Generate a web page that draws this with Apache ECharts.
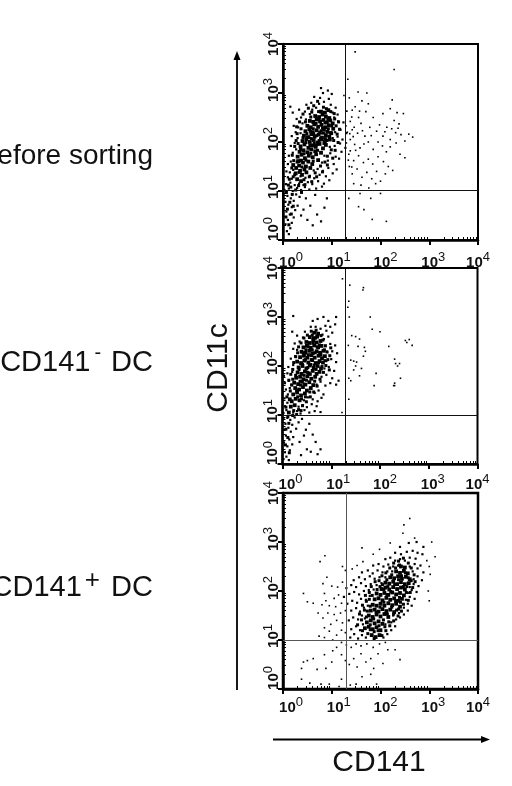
<!DOCTYPE html>
<html><head><meta charset="utf-8"><style>html,body{margin:0;padding:0;background:#fff}#c{width:512px;height:786px}</style>
<script src="https://cdn.jsdelivr.net/npm/echarts@6/dist/echarts.min.js"></script></head><body><div id="c"></div>
<script>
// all values are log10 fluorescence intensity: [CD141, CD11c]
const decades=[0,1,2,3,4];
const minorDecadeSteps=[2,3,4,5,6,7,8,9];
const gates=[[1.27,1.01],[1.28,1.0],[1.29,1.0]];
const beforeCore=[[.33,1.52],[.41,1.58],[.47,1.5],[.52,1.6],[.37,1.62],[.3,1.7],[.38,1.74],[.45,1.67],[.53,1.72],[.61,1.69],[.68,1.75],[.34,1.8],[.42,1.83],[.5,1.79],[.58,1.85],[.66,1.81],[.36,1.91],[.44,1.95],[.52,1.88],[.6,1.93],[.67,1.9],[.75,1.96],[.82,1.87],[.4,2.02],[.48,2.06],[.55,2.0],[.63,2.04],[.71,1.99],[.79,2.05],[.86,2.01],[.43,2.13],[.51,2.1],[.58,2.16],[.65,2.11],[.73,2.15],[.8,2.09],[.88,2.14],[.95,2.11],[.46,2.22],[.54,2.26],[.61,2.2],[.69,2.24],[.76,2.19],[.84,2.25],[.91,2.21],[.99,2.18],[.5,2.33],[.57,2.3],[.64,2.36],[.72,2.31],[.79,2.35],[.87,2.3],[.94,2.34],[.55,2.43],[.62,2.41],[.69,2.46],[.76,2.42],[.83,2.45],[.9,2.4],[.97,2.44],[.66,2.53],[.74,2.51],[.81,2.56],[.88,2.52],[.95,2.49],[.78,2.62],[.86,2.6],[.93,2.65],[.27,1.47],[.35,1.41],[.44,1.44],[.56,1.47],[.6,1.55],[.72,1.63],[.78,1.78],[.88,1.94],[.96,2.05],[1.03,2.27],[1.02,2.38],[.31,1.61],[.26,1.36],[.39,1.33],[.48,1.38],[.29,1.24],[.37,1.2],[.21,1.53]];
const beforeDense=[[.19,1.73],[.27,2.03],[.24,1.91],[.31,1.97],[.29,2.17],[.37,2.27],[.34,2.41],[.41,2.57],[.52,2.69],[.57,2.51],[.63,2.74],[.71,2.83],[.83,2.71],[.98,2.62],[1.06,2.47],[1.09,2.33],[1.11,2.16],[1.04,2.03],[1.13,1.99],[.99,1.84],[.91,1.71],[.86,1.59],[.77,1.51],[.66,1.37],[.54,1.29],[.43,1.23],[.32,1.11],[.24,1.33],[.18,1.47],[.13,1.24],[.16,1.08],[.47,1.99],[.53,2.09],[.62,2.27],[.68,2.38],[.74,2.47],[.81,2.29],[.86,2.39],[.92,2.46],[.77,2.07],[.83,2.18],[.69,1.94],[.57,1.77],[.47,1.63],[.39,1.49],[.62,1.61],[.71,1.83],[.74,2.03],[.63,2.17],[.56,2.22],[.49,2.17],[.41,2.09],[.36,1.85],[.43,1.76],[.55,1.93],[.64,1.97],[.58,2.07],[.69,2.13],[.78,2.23],[.87,2.07],[.93,2.27],[1.0,2.33],[.97,2.19],[.9,2.03],[.84,1.97],[.22,1.62],[.29,1.59],[.21,1.29],[.33,1.38],[.11,1.12],[.07,.97],[.19,.93],[.14,.77],[.09,.63],[.21,.69],[.06,.47],[.17,.53],[.12,.31],[.26,1.02],[.38,.97],[.45,1.13],[.59,1.19],[.69,1.29],[.81,1.39],[.91,1.53],[1.02,1.67],[1.07,1.83],[1.16,2.26],[1.14,2.41],[.28,2.31],[.46,2.41],[.59,2.61],[.73,2.62],[.89,2.68],[1.05,2.58]];
const beforeHalo=[[.08,.18],[.12,.12],[.15,.24],[.05,.32],[.18,.35],[.1,.41],[.22,.46],[.14,.52],[.07,.58],[.25,.61],[.18,.67],[.11,.72],[.3,.7],[.05,.78],[.22,.8],[.16,.85],[.34,.88],[.09,.9],[.27,.93],[.42,.62],[.5,.41],[.37,.5],[.56,.7],[.61,.3],[.47,.85],[.7,.52],[.78,.38],[.85,.66],[.9,.85],[.66,.92],[.03,1.02],[.12,1.05],[.2,1.0],[.29,1.06],[.37,1.02],[.45,1.08],[.54,1.03],[.68,1.05],[.8,1.09],[.06,1.14],[.15,1.17],[.24,1.12],[.33,1.15],[.42,1.12],[.51,1.18],[.6,1.14],[.72,1.2],[.84,1.15],[.95,1.22],[.1,1.28],[.18,1.25],[.36,1.3],[.46,1.27],[.55,1.31],[.64,1.26],[.75,1.33],[.88,1.3],[1.02,1.36],[.07,1.4],[.14,1.38],[.21,1.43],[.63,1.42],[.71,1.45],[.82,1.41],[.93,1.47],[1.1,1.44],[.1,1.55],[.16,1.6],[.8,1.58],[.92,1.62],[1.04,1.55],[1.15,1.66],[.12,1.72],[.2,1.78],[.27,1.85],[.85,1.72],[.97,1.77],[1.08,1.7],[1.2,1.8],[.16,1.92],[.24,1.98],[.3,2.08],[.96,1.9],[1.06,1.92],[1.17,1.97],[1.28,1.88],[.18,2.12],[.26,2.2],[.36,2.18],[1.02,2.08],[1.12,2.11],[1.22,2.05],[.22,2.33],[.31,2.3],[.4,2.38],[1.07,2.2],[1.18,2.25],[1.3,2.18],[.28,2.47],[.37,2.5],[.47,2.46],[1.05,2.5],[1.13,2.42],[1.24,2.4],[.2,2.6],[.33,2.66],[.45,2.62],[.55,2.57],[.6,2.66],[1.02,2.6],[1.12,2.56],[.15,2.72],[.48,2.76],[.58,2.8],[.68,2.7],[.74,2.78],[.98,2.76],[1.08,2.7],[.64,2.92],[.76,2.9],[.84,2.82],[.94,2.88],[.82,3.0],[.92,3.05],[.78,3.1],[1.0,2.98]];
const beforeSparse=[[1.33,3.28],[1.36,2.9],[1.42,2.65],[1.48,2.72],[1.55,2.5],[1.62,2.84],[1.7,2.62],[1.75,2.78],[1.38,2.42],[1.46,2.3],[1.53,2.18],[1.6,2.38],[1.68,2.12],[1.78,2.3],[1.85,2.5],[1.92,2.22],[1.98,2.35],[2.05,2.12],[2.13,2.3],[2.2,2.05],[2.28,2.44],[2.36,2.28],[2.42,2.15],[2.5,2.02],[2.58,2.16],[2.66,2.1],[2.34,2.6],[2.47,2.58],[2.2,2.68],[2.05,2.58],[1.38,2.05],[1.47,1.95],[1.58,1.88],[1.66,1.96],[1.75,2.0],[1.85,1.85],[1.95,2.0],[2.04,1.92],[2.12,1.8],[2.2,1.9],[2.32,1.98],[2.4,1.75],[2.5,1.68],[1.35,1.75],[1.45,1.62],[1.55,1.72],[1.65,1.58],[1.75,1.65],[1.84,1.55],[1.95,1.7],[2.06,1.6],[2.16,1.5],[2.25,1.42],[2.1,1.35],[1.36,1.5],[1.42,1.35],[1.52,1.45],[1.62,1.28],[1.72,1.38],[1.82,1.25],[1.92,1.4],[2.0,1.2],[1.45,1.15],[1.6,1.12],[1.76,1.06],[1.9,1.15],[1.35,.85],[1.55,.68],[1.66,.62],[1.8,.85],[1.83,.42],[2.12,.38],[1.58,.95],[2.0,.95],[1.25,2.95],[1.54,3.02],[1.72,3.0],[2.24,2.86],[2.28,3.48],[1.48,3.84],[1.42,2.25],[1.32,2.2],[1.3,1.98],[1.38,1.82],[1.41,2.51],[1.57,2.63],[1.44,2.11],[1.31,2.63],[1.29,2.33],[1.37,2.17],[1.34,1.63],[1.41,1.49],[1.49,1.83],[1.63,2.23],[1.81,2.13],[2.09,2.21],[2.23,2.27],[2.31,2.19],[2.38,2.37]];
const negCore=[[.22,1.42],[.3,1.46],[.38,1.4],[.46,1.44],[.26,1.55],[.34,1.52],[.42,1.57],[.5,1.5],[.58,1.55],[.24,1.66],[.32,1.63],[.4,1.68],[.47,1.62],[.55,1.67],[.63,1.61],[.28,1.76],[.36,1.78],[.43,1.73],[.51,1.79],[.59,1.74],[.67,1.78],[.31,1.87],[.39,1.84],[.46,1.89],[.54,1.85],[.62,1.9],[.7,1.84],[.76,1.88],[.33,1.97],[.41,2.0],[.49,1.95],[.56,2.01],[.64,1.96],[.72,2.0],[.79,1.95],[.3,2.09],[.38,2.06],[.45,2.11],[.53,2.07],[.61,2.12],[.68,2.06],[.76,2.1],[.83,2.07],[.36,2.18],[.44,2.21],[.51,2.17],[.59,2.22],[.66,2.17],[.74,2.21],[.81,2.16],[.39,2.29],[.47,2.27],[.55,2.31],[.62,2.26],[.7,2.3],[.77,2.27],[.84,2.31],[.43,2.38],[.5,2.41],[.58,2.37],[.65,2.42],[.73,2.38],[.8,2.41],[.49,2.49],[.56,2.47],[.63,2.52],[.7,2.48],[.78,2.51],[.56,2.59],[.64,2.57],[.71,2.6],[.65,2.68],[.73,2.66],[.19,1.28],[.27,1.33],[.35,1.3],[.17,1.17],[.25,1.2],[.13,1.05],[.87,2.2],[.15,1.32]];
const negDense=[[.16,1.49],[.19,1.61],[.13,1.71],[.17,1.83],[.21,1.93],[.23,2.07],[.27,2.19],[.31,2.27],[.33,2.39],[.38,2.47],[.44,2.57],[.51,2.63],[.59,2.71],[.69,2.73],[.79,2.62],[.83,2.53],[.88,2.41],[.91,2.29],[.93,2.13],[.89,2.01],[.84,1.87],[.77,1.73],[.71,1.59],[.64,1.47],[.57,1.37],[.49,1.27],[.41,1.19],[.33,1.11],[.23,1.09],[.11,.97],[.07,1.16],[.09,1.37],[.13,.83],[.07,.71],[.11,.54],[.06,.39],[.14,.23],[.29,1.49],[.37,1.61],[.44,1.81],[.52,1.97],[.58,2.03],[.67,2.27],[.61,2.33],[.53,2.23],[.47,2.13],[.41,2.03],[.34,1.93],[.27,1.81],[.21,1.73],[.36,1.69],[.49,1.71],[.57,1.83],[.69,1.93],[.74,2.07],[.79,2.23],[.71,2.39],[.63,2.47],[.54,2.39],[.48,2.33],[.42,2.27],[.59,2.13],[.65,2.02],[.51,1.87],[.44,1.63],[.31,1.37],[.39,1.33],[.47,1.37],[.56,1.47],[.66,1.69],[.81,1.99],[.87,2.11],[.86,2.33],[.76,2.43],[.68,2.57],[.61,2.63],[.97,2.21],[.99,2.37],[.96,1.92],[.21,.99],[.29,1.01],[.38,1.09]];
const negHalo=[[.02,.1],[.08,.15],[.13,.08],[.05,.24],[.15,.28],[.1,.36],[.2,.4],[.03,.44],[.14,.5],[.07,.58],[.22,.55],[.17,.66],[.03,.7],[.12,.74],[.06,.82],[.2,.8],[.28,.72],[.02,.92],[.1,.94],[.16,.9],[.25,.95],[.33,.85],[.4,.92],[.48,.7],[.55,.82],[.62,.6],[.68,.45],[.5,.3],[.38,.18],[.58,.25],[.72,.2],[.78,.3],[.35,.45],[.44,.58],[.02,1.04],[.08,1.1],[.22,1.05],[.3,1.08],[.37,1.03],[.45,1.1],[.55,1.05],[.66,1.08],[.78,1.06],[.05,1.18],[.1,1.25],[.33,1.17],[.42,1.2],[.5,1.16],[.6,1.22],[.7,1.18],[.04,1.34],[.11,1.42],[.44,1.3],[.52,1.36],[.62,1.32],[.72,1.28],[.8,1.35],[.07,1.52],[.15,1.55],[.66,1.45],[.74,1.5],[.84,1.42],[.05,1.65],[.13,1.7],[.18,1.62],[.7,1.62],[.78,1.68],[.88,1.6],[.98,1.65],[.03,1.8],[.1,1.85],[.2,1.88],[.8,1.78],[.9,1.82],[1.02,1.75],[1.1,1.62],[.12,1.98],[.22,2.02],[.86,1.95],[.95,1.98],[1.06,1.9],[1.15,1.7],[.17,2.15],[.26,2.2],[.9,2.1],[1.0,2.14],[1.1,2.08],[.22,2.35],[.3,2.33],[.92,2.28],[1.02,2.3],[1.12,2.26],[.25,2.46],[.35,2.5],[.88,2.42],[.98,2.45],[1.08,2.42],[.3,2.62],[.42,2.58],[.85,2.55],[.94,2.6],[.2,2.7],[.46,2.7],[.82,2.64],[.9,2.72],[1.02,2.68],[.58,2.8],[.68,2.8],[.78,2.76],[.88,2.82],[.98,2.8],[1.08,2.85],[.62,2.92],[.72,2.96],[.84,3.0],[.94,2.92],[1.1,3.0],[.22,3.02]];
const negSparse=[[1.23,3.78],[1.38,3.65],[1.66,3.6],[1.65,3.55],[1.36,3.32],[1.34,3.2],[1.37,3.0],[1.8,3.0],[1.84,2.75],[2.0,2.7],[1.5,2.6],[1.58,2.55],[1.42,2.62],[1.55,2.4],[1.35,2.42],[1.68,2.38],[1.7,2.3],[1.66,2.2],[1.4,2.12],[1.46,2.1],[1.52,2.08],[1.5,2.0],[1.46,1.92],[1.62,1.95],[1.58,1.8],[1.36,1.75],[1.4,1.7],[1.92,1.85],[1.88,1.6],[1.36,1.32],[1.22,1.05],[2.18,2.4],[2.3,2.14],[2.4,2.05],[2.52,2.52],[2.6,2.54],[2.55,2.48],[2.66,2.42],[2.32,2.05],[2.36,2.0],[2.3,1.65],[2.28,1.6],[2.42,1.75],[2.3,1.6]];
const posCore=[[1.72,1.36],[1.8,1.4],[1.88,1.34],[1.96,1.38],[2.04,1.33],[1.76,1.5],[1.84,1.47],[1.92,1.52],[2.0,1.48],[2.08,1.53],[2.16,1.47],[1.8,1.6],[1.88,1.62],[1.96,1.58],[2.04,1.63],[2.12,1.59],[2.2,1.62],[2.28,1.57],[1.84,1.72],[1.92,1.7],[2.0,1.74],[2.08,1.7],[2.16,1.75],[2.24,1.71],[2.32,1.74],[2.4,1.68],[1.88,1.83],[1.96,1.85],[2.04,1.81],[2.12,1.86],[2.2,1.82],[2.28,1.85],[2.36,1.8],[2.44,1.84],[1.92,1.95],[2.0,1.92],[2.08,1.96],[2.16,1.92],[2.24,1.97],[2.32,1.93],[2.4,1.96],[2.48,1.91],[2.02,2.04],[2.1,2.07],[2.18,2.03],[2.26,2.08],[2.34,2.04],[2.42,2.07],[2.5,2.03],[2.1,2.17],[2.18,2.15],[2.26,2.19],[2.34,2.14],[2.42,2.18],[2.5,2.14],[2.58,2.16],[2.2,2.28],[2.28,2.26],[2.36,2.3],[2.44,2.25],[2.52,2.29],[2.6,2.24],[2.32,2.4],[2.4,2.37],[2.48,2.41],[2.56,2.36],[2.42,2.5],[2.5,2.48],[1.68,1.24],[1.76,1.27],[1.84,1.22],[1.92,1.26],[2.0,1.2],[1.82,1.1],[1.9,1.06],[1.98,1.1]];
const posDense=[[1.53,1.31],[1.61,1.41],[1.57,1.53],[1.67,1.61],[1.63,1.71],[1.71,1.79],[1.69,1.91],[1.77,1.97],[1.81,2.09],[1.89,2.19],[1.97,2.21],[2.03,2.31],[2.11,2.37],[2.19,2.47],[2.27,2.57],[2.37,2.61],[2.47,2.67],[2.57,2.57],[2.63,2.47],[2.69,2.33],[2.71,2.19],[2.66,2.07],[2.61,1.97],[2.57,1.81],[2.47,1.73],[2.43,1.59],[2.36,1.49],[2.27,1.39],[2.19,1.29],[2.11,1.19],[2.03,1.09],[1.87,1.03],[1.74,1.13],[1.63,1.19],[1.79,1.31],[1.86,1.43],[1.91,1.57],[1.99,1.67],[2.07,1.77],[2.13,1.93],[2.21,1.99],[2.29,2.13],[2.37,2.23],[2.43,2.31],[2.51,2.37],[2.57,2.27],[2.47,2.09],[2.39,1.87],[2.31,1.79],[2.23,1.67],[2.14,1.53],[2.06,1.41],[1.97,1.29],[1.79,1.69],[1.83,1.91],[1.93,2.03],[2.04,2.13],[2.13,2.23],[2.23,2.33],[2.31,2.47],[2.39,2.53],[2.53,1.97],[2.54,2.09],[2.63,2.21],[2.37,1.63],[2.27,1.53],[2.17,1.37],[2.09,1.27],[1.71,1.47],[1.73,1.59],[1.77,1.83],[1.99,2.09],[2.07,2.03],[2.15,2.09],[2.33,1.61],[2.41,1.77],[1.95,1.19],[1.87,1.17],[1.79,1.21]];
const posHalo=[[1.38,1.05],[1.46,1.12],[1.54,1.03],[1.62,1.1],[1.7,1.05],[2.06,1.05],[2.14,1.12],[2.22,1.2],[2.3,1.28],[1.4,1.22],[1.5,1.28],[1.58,1.2],[1.64,1.32],[2.1,1.32],[2.22,1.36],[2.32,1.42],[2.4,1.46],[1.35,1.4],[1.44,1.46],[1.54,1.42],[1.62,1.5],[1.68,1.44],[2.26,1.5],[2.38,1.55],[2.48,1.52],[2.56,1.6],[1.4,1.6],[1.5,1.65],[1.58,1.58],[1.66,1.66],[1.74,1.7],[2.48,1.66],[2.56,1.74],[2.64,1.7],[1.32,1.74],[1.42,1.8],[1.52,1.76],[1.6,1.84],[1.7,1.82],[1.78,1.9],[2.52,1.82],[2.6,1.88],[2.7,1.84],[1.25,1.88],[1.36,1.94],[1.46,1.98],[1.56,1.93],[1.66,2.0],[1.76,2.02],[1.86,2.03],[2.56,1.96],[2.64,2.02],[2.74,1.98],[1.3,2.06],[1.4,2.12],[1.5,2.08],[1.6,2.16],[1.7,2.1],[1.8,2.14],[1.92,2.12],[2.02,2.16],[2.6,2.08],[2.68,2.14],[2.78,2.1],[1.45,2.22],[1.56,2.28],[1.68,2.24],[1.78,2.3],[1.88,2.25],[1.98,2.28],[2.1,2.28],[2.68,2.24],[2.76,2.3],[2.85,2.22],[1.62,2.38],[1.74,2.42],[1.84,2.36],[1.94,2.42],[2.04,2.38],[2.14,2.4],[2.24,2.4],[2.66,2.4],[2.76,2.46],[2.88,2.38],[1.85,2.52],[1.96,2.55],[2.06,2.5],[2.16,2.54],[2.26,2.5],[2.36,2.52],[2.6,2.5],[2.7,2.55],[2.82,2.52],[2.1,2.65],[2.2,2.68],[2.3,2.62],[2.4,2.65],[2.5,2.62],[2.6,2.68],[2.72,2.66],[2.3,2.78],[2.42,2.75],[2.54,2.8],[2.66,2.82],[2.76,2.78],[2.86,2.75],[2.4,2.9],[2.58,2.98],[2.74,3.0],[2.88,2.9]];
const posSparse=[[.42,.55],[.38,.42],[.5,.58],[.62,.62],[.38,.2],[.55,.12],[.78,.1],[.95,.1],[1.15,.05],[.7,.4],[.88,.42],[1.0,.55],[.85,.7],[1.02,.78],[1.1,.85],[1.2,.7],[1.28,.58],[1.36,.5],[1.45,.62],[1.52,.45],[1.6,.72],[1.7,.55],[1.8,.62],[1.86,.42],[1.95,.72],[2.05,.52],[2.15,.8],[2.3,.8],[2.4,.6],[1.2,.95],[1.3,.9],[1.4,.85],[1.5,.92],[1.6,.88],[1.72,.92],[1.85,.85],[1.98,.92],[2.1,.95],[1.2,.2],[1.38,.08],[1.5,.1],[1.62,.25],[1.8,.3],[1.92,.1],[1.02,1.0],[.85,1.05],[.74,1.08],[.95,1.18],[1.1,1.1],[1.2,1.2],[1.28,1.15],[.85,1.25],[.98,1.32],[1.1,1.4],[1.22,1.35],[.72,1.55],[.82,1.45],[.92,1.55],[1.05,1.52],[1.18,1.55],[1.28,1.6],[.95,1.7],[1.08,1.68],[1.2,1.75],[.8,1.72],[.88,1.8],[1.05,1.85],[1.14,1.92],[.85,1.95],[.82,2.15],[.9,2.28],[1.0,2.1],[1.12,2.08],[1.22,2.18],[.76,2.6],[.86,2.72],[1.22,2.5],[1.28,2.42],[1.42,2.45],[1.52,2.52],[1.64,2.6],[1.62,2.88],[1.85,2.75],[1.98,2.85],[2.2,2.98],[2.46,3.18],[2.7,3.08],[3.05,3.0],[3.12,2.7],[3.0,2.5],[2.95,2.62],[3.02,2.34],[3.0,1.8],[2.98,2.0],[2.6,3.48],[2.48,3.35],[.5,1.78],[.42,1.95],[.62,1.75]];

const labelFont='"Liberation Sans",Arial,sans-serif';
const rich={b:{fontSize:15,fontFamily:labelFont,fontWeight:'bold',color:'#111',verticalAlign:'bottom',lineHeight:19},s:{fontSize:13,fontFamily:labelFont,color:'#111',verticalAlign:'top',lineHeight:19},sp0:{width:16},sp1:{width:14},sp2:{width:10},sp3:{width:8},sp4:{width:0},sq0:{width:22},sq1:{width:8},sq2:{width:6},sq3:{width:6},sq4:{width:0}};
const fmtX=v=>`{sp${v}| }{b|10}{s|${v}}`;
const fmtY=v=>`{sq${v}| }{b|10}{s|${v}}`;
const minorTicks=[];decades.slice(0,4).forEach(d=>minorDecadeSteps.forEach(s=>minorTicks.push(d+Math.log10(s))));
const grids=[{left:283,top:44,width:195,height:196},{left:282.5,top:268,width:195,height:196},{left:283,top:493,width:195,height:196}];
const panels=[[beforeCore,beforeDense,beforeHalo,beforeSparse],[negCore,negDense,negHalo,negSparse],[posCore,posDense,posHalo,posSparse]];
const xLabelMargin=[11,9,7];
const xAxis=[],yAxis=[],series=[];
grids.forEach((g,i)=>{
 const base={min:0,max:4,interval:1,type:'value',gridIndex:i,splitLine:{show:false}};
 const line={lineStyle:{color:'#000',width:2.5}};
 xAxis.push({...base,axisLine:{show:true,...line},axisTick:{show:true,length:5,lineStyle:{width:2,color:'#000'}},axisLabel:{formatter:fmtX,rich,margin:xLabelMargin[i],hideOverlap:false,showMinLabel:true,showMaxLabel:true}});
 yAxis.push({...base,axisLine:{show:true,...line},axisTick:{show:true,length:5,lineStyle:{width:2,color:'#000'}},axisLabel:{formatter:fmtY,rich,rotate:90,margin:2,hideOverlap:false,showMinLabel:true,showMaxLabel:true}});
 xAxis.push({...base,axisLine:{show:false},axisLabel:{show:false},axisTick:{show:true,length:3,customValues:minorTicks,lineStyle:{width:1,color:'#000'}}});
 yAxis.push({...base,axisLine:{show:false},axisLabel:{show:false},axisTick:{show:true,length:3,customValues:minorTicks,lineStyle:{width:1,color:'#000'}}});
 const xi=i*2,yi=i*2;
 const [core,dense,halo,sparse]=panels[i];
 const sc=(data,size)=>({type:'scatter',xAxisIndex:xi,yAxisIndex:yi,data,symbol:'rect',symbolSize:size,silent:true,animation:false,itemStyle:{color:'#000',opacity:1}});
 series.push(sc(core,3.8),sc(dense,3),sc(halo,2.2),sc(sparse,1.6));
 series.push({type:'line',xAxisIndex:xi,yAxisIndex:yi,data:[],silent:true,animation:false,markLine:{silent:true,symbol:'none',animation:false,label:{show:false},lineStyle:{color:i==2?'#555':'#111',width:1,type:'solid'},data:[{xAxis:gates[i][0]},{yAxis:gates[i][1]}]}});
});
const ts={fontFamily:labelFont,fontSize:28,fill:'#111'};
const aTok={fontFamily:labelFont,fontSize:29,fill:'#111',verticalAlign:'bottom',lineHeight:34};
const option={animation:false,backgroundColor:'#fff',
 grid:grids.map((g,i)=>({...g,show:true,borderColor:'#000',borderWidth:i==2?2.5:2,backgroundColor:'transparent',containLabel:false})),
 xAxis,yAxis,series,
 graphic:[
  {type:'text',x:153,y:170,style:{...ts,text:'Before sorting',align:'right',verticalAlign:'bottom'}},
  {type:'text',x:153,y:377,style:{...ts,text:'{a|CD141}{s|-}{a| DC}',align:'right',verticalAlign:'bottom',rich:{a:aTok,s:{fontFamily:labelFont,fontSize:20,fill:'#111',verticalAlign:'top',lineHeight:34,padding:[0,2,0,4]}}}},
  {type:'text',x:153,y:602,style:{...ts,text:'{a|CD141}{s|+}{a| DC}',align:'right',verticalAlign:'bottom',rich:{a:aTok,s:{fontFamily:labelFont,fontSize:26,fill:'#111',verticalAlign:'top',lineHeight:34,padding:[0,3,0,3]}}}},
  {type:'text',x:219,y:368,rotation:Math.PI/2,style:{...ts,fontSize:30,text:'CD11c',align:'center',verticalAlign:'middle'}},
  {type:'text',x:379,y:763,style:{...ts,fontSize:30,text:'CD141',align:'center',verticalAlign:'middle'}},
  {type:'line',shape:{x1:237,y1:690,x2:237,y2:58},style:{stroke:'#000',lineWidth:1.8}},
  {type:'polygon',shape:{points:[[237,51],[233.5,60],[240.5,60]]},style:{fill:'#000'}},
  {type:'line',shape:{x1:273,y1:739.5,x2:482,y2:739.5},style:{stroke:'#000',lineWidth:1.8}},
  {type:'polygon',shape:{points:[[490,739.5],[481,736],[481,743]]},style:{fill:'#000'}}
 ]};
echarts.init(document.getElementById('c'),null,{renderer:'canvas'}).setOption(option);
</script></body></html>
